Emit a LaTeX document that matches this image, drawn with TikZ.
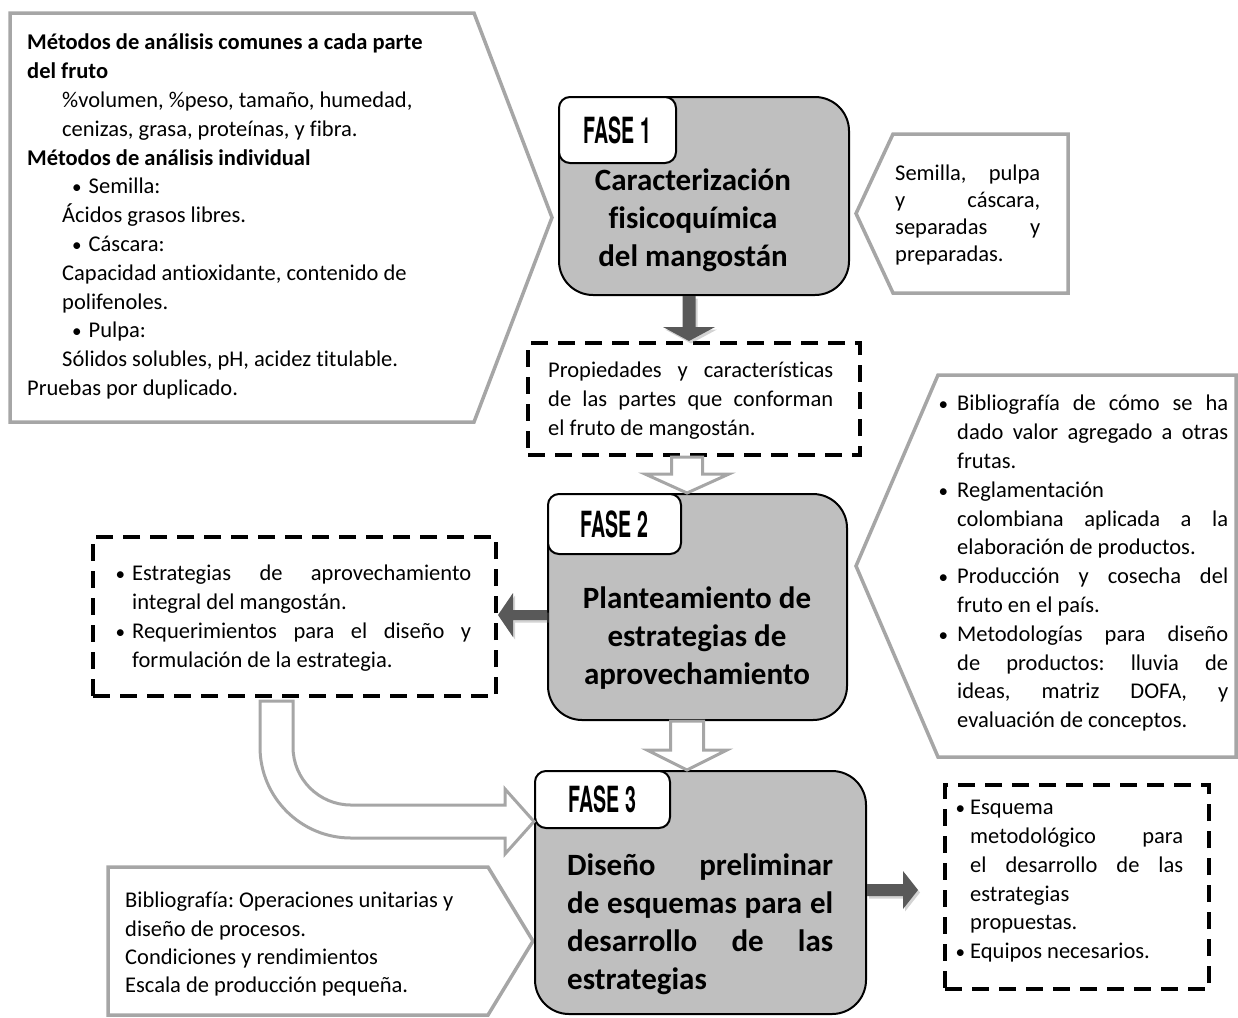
\documentclass[tikz,border=0pt]{standalone}
\usepackage{graphicx}
\usepackage{fontspec}
\setmainfont{Carlito}[Ligatures=NoCommon]
\newfontfamily\fasefont{TeX Gyre Heros}
\usetikzlibrary{calc}
\usetikzlibrary{shadows}
\frenchspacing

\definecolor{fasegray}{HTML}{BFBFBF}
\definecolor{calloutgray}{HTML}{A6A6A6}
\definecolor{arrowdark}{HTML}{595959}

% justified line, bullet, phase label
\newcommand{\jl}[2]{\makebox[#1][s]{#2}}
\newcommand{\bul}[1][15pt]{\makebox[#1][l]{\hspace*{-1.5pt}\scalebox{0.85}{\textbullet}}}
\newcommand{\fasetxt}[1]{\scalebox{0.56}[1.03]{\fasefont\bfseries #1}}

% block arrow: style, from, to, shaft half, head half, head length
\newcommand{\blockarrow}[6]{%
  \path[#1] ($(#2)!#4!90:(#3)$)
    -- ($(#3)!#6!(#2)!#4!90:(#3)$)
    -- ($(#3)!#6!(#2)!#5!90:(#3)$)
    -- (#3)
    -- ($(#3)!#6!(#2)!#5!-90:(#3)$)
    -- ($(#3)!#6!(#2)!#4!-90:(#3)$)
    -- ($(#2)!#4!-90:(#3)$) -- cycle;}

\tikzset{
  fase/.style={draw, line width=2pt, fill=fasegray, rounded corners=34pt, inner sep=0pt, anchor=north west},
  faselabel/.style={draw, line width=2pt, fill=white, rounded corners=11pt, inner sep=0pt, anchor=north west, font=\fontsize{35}{35}\selectfont},
  titletxt/.style={font=\fontsize{31}{38}\selectfont\bfseries, align=center, inner sep=0pt},
  bodytxt/.style={font=\fontsize{22.5}{28.8}\selectfont, align=left, inner sep=0pt, anchor=north west},
  callout/.style={draw=calloutgray, line width=3.5pt, fill=white, line join=miter},
  dashbox/.style={draw, line width=4pt, dash pattern=on 17pt off 10pt, inner sep=0pt, anchor=north west},
  darkarrow/.style={fill=arrowdark, drop shadow={opacity=0.35, shadow xshift=2pt, shadow yshift=-2.5pt}},
  hollowarrow/.style={draw=calloutgray, line width=3pt, fill=white, line join=miter}
}

\begin{document}
\begin{tikzpicture}[x=1pt,y=-1pt]
\useasboundingbox (0,0) rectangle (1238,1017);

% callouts
\draw[callout] (10,13) -- (474,13) -- (552,217.5) -- (474,422) -- (10,422) -- cycle;
\node[bodytxt] (metodos) at (27,34) {\textbf{Métodos de análisis comunes a cada parte}\\
  \textbf{del fruto}\\
  \hspace*{35pt}\%volumen, \%peso, tamaño, humedad,\\
  \hspace*{35pt}cenizas, grasa, proteínas, y fibra.\\
  \textbf{Métodos de análisis individual}\\
  \hspace*{45pt}\scalebox{0.85}{\textbullet}\hspace*{7pt}Semilla:\\
  \hspace*{35pt}Ácidos grasos libres.\\
  \hspace*{45pt}\scalebox{0.85}{\textbullet}\hspace*{7pt}Cáscara:\\
  \hspace*{35pt}Capacidad antioxidante, contenido de\\
  \hspace*{35pt}polifenoles.\\
  \hspace*{45pt}\scalebox{0.85}{\textbullet}\hspace*{7pt}Pulpa:\\
  \hspace*{35pt}Sólidos solubles, pH, acidez titulable.\\
  Pruebas por duplicado.};

\draw[callout] (856,213.5) -- (893,134) -- (1068,134) -- (1068,293) -- (893,293) -- cycle;
\node[bodytxt, font=\fontsize{22.5}{27}\selectfont] (partes) at (895,165) {\jl{145pt}{Semilla, pulpa}\\
  \jl{145pt}{y cáscara,}\\\jl{145pt}{separadas y}\\preparadas.};

\draw[callout] (856,566) -- (938,375) -- (1236,375) -- (1236,757) -- (938,757) -- cycle;
\node[bodytxt] (biblio) at (940,395) {\bul[17pt]\jl{271pt}{Bibliografía de cómo se ha}\\
  \hspace*{17pt}\jl{271pt}{dado valor agregado a otras}\\
  \hspace*{17pt}frutas.\\
  \bul[17pt]Reglamentación\\
  \hspace*{17pt}\jl{271pt}{colombiana aplicada a la}\\
  \hspace*{17pt}elaboración de productos.\\
  \bul[17pt]\jl{271pt}{Producción y cosecha del}\\
  \hspace*{17pt}fruto en el país.\\
  \bul[17pt]\jl{271pt}{Metodologías para diseño}\\
  \hspace*{17pt}\jl{271pt}{de productos: lluvia de}\\
  \hspace*{17pt}\jl{271pt}{ideas, matriz DOFA, y}\\
  \hspace*{17pt}evaluación de conceptos.};

\draw[callout] (108,867) -- (488,867) -- (533,941) -- (488,1015) -- (108,1015) -- cycle;
\node[bodytxt, font=\fontsize{22.5}{28.3}\selectfont] (opunit) at (125,892) {Bibliografía: Operaciones unitarias y\\
  diseño de procesos.\\Condiciones y rendimientos\\Escala de producción pequeña.};

% phases
\node[fase, minimum width=290, minimum height=198] (f1) at (558,96) {};
\node[faselabel, minimum width=117, minimum height=66] (l1) at (f1.north west) {\fasetxt{FASE 1}};
\node[titletxt] (t1) at (693,220) {Caracterización\\fisicoquímica\\del mangostán};

\node[fase, minimum width=299, minimum height=226] (f2) at (547,493) {};
\node[faselabel, minimum width=133, minimum height=60] (l2) at (f2.north west) {\fasetxt{FASE 2}};
\node[titletxt] (t2) at (697,638) {Planteamiento de\\estrategias de\\aprovechamiento};

\node[fase, minimum width=331, minimum height=243] (f3) at (534,770) {};
\node[faselabel, minimum width=135, minimum height=57] (l3) at (f3.north west) {\fasetxt{FASE 3}};
\node[titletxt, align=left, anchor=north west] (t3) at (567,854) {\jl{266pt}{Diseño preliminar}\\
  \jl{266pt}{de esquemas para el}\\\jl{266pt}{desarrollo de las}\\estrategias};

% results
\node[dashbox, minimum width=332, minimum height=112] (prop) at (526,341) {};
\node[bodytxt] (propt) at (548,362) {\jl{285pt}{Propiedades y características}\\
  \jl{285pt}{de las partes que conforman}\\el fruto de mangostán.};

\node[dashbox, minimum width=403, minimum height=159] (est) at (91,535) {};
\node[bodytxt] (estt) at (117,565) {\bul\jl{339pt}{Estrategias de aprovechamiento}\\
  \hspace*{15pt}integral del mangostán.\\
  \bul\jl{339pt}{Requerimientos para el diseño y}\\
  \hspace*{15pt}formulación de la estrategia.};

\node[dashbox, minimum width=264, minimum height=204] (esq) at (943,783) {};
\node[bodytxt] (esqt) at (957,800) {\bul[13pt]Esquema\\
  \hspace*{13pt}\jl{213pt}{metodológico para}\\
  \hspace*{13pt}\jl{213pt}{el desarrollo de las}\\
  \hspace*{13pt}estrategias\\
  \hspace*{13pt}propuestas.\\
  \bul[13pt]Equipos necesarios.};

% arrows
\coordinate (d1a) at (689,0 |- f1.south);
\coordinate (d1b) at (689,0 |- prop.north);
\blockarrow{darkarrow}{d1a}{d1b}{6.5pt}{26pt}{14pt}

\coordinate (d2a) at (f2.west |- 0,615);
\coordinate (d2b) at (est.east |- d2a);
\blockarrow{darkarrow}{d2a}{d2b}{5pt}{22pt}{15pt}

\coordinate (d3a) at (f3.east |- 0,890);
\coordinate (d3b) at ($(esq.west |- d3a)+(-25,0)$);
\blockarrow{darkarrow}{d3a}{d3b}{6pt}{19pt}{15pt}

\coordinate (h1a) at (687,0 |- prop.south);
\coordinate (h1b) at (687,0 |- f2.north);
\blockarrow{hollowarrow}{h1a}{h1b}{15.5pt}{42pt}{19pt}

\coordinate (h2a) at (687,0 |- f2.south);
\coordinate (h2b) at (687,0 |- f3.north);
\blockarrow{hollowarrow}{h2a}{h2b}{16.5pt}{40pt}{20pt}

\coordinate (ctail) at (276.5,0 |- est.south);
\coordinate (ctip) at ($(f3.north west)+(0,51.5)$);
\draw[hollowarrow] ($(ctail)+(-16.5,3)$) -- (260,747) arc[start angle=180, end angle=90, radius=91]
  -- (505,838) -- (505,854) -- (ctip) -- (505,789) -- (505,805)
  -- (351,805) arc[start angle=90, end angle=180, radius=58] -- ($(ctail)+(16.5,3)$) -- cycle;
\end{tikzpicture}
\end{document}
